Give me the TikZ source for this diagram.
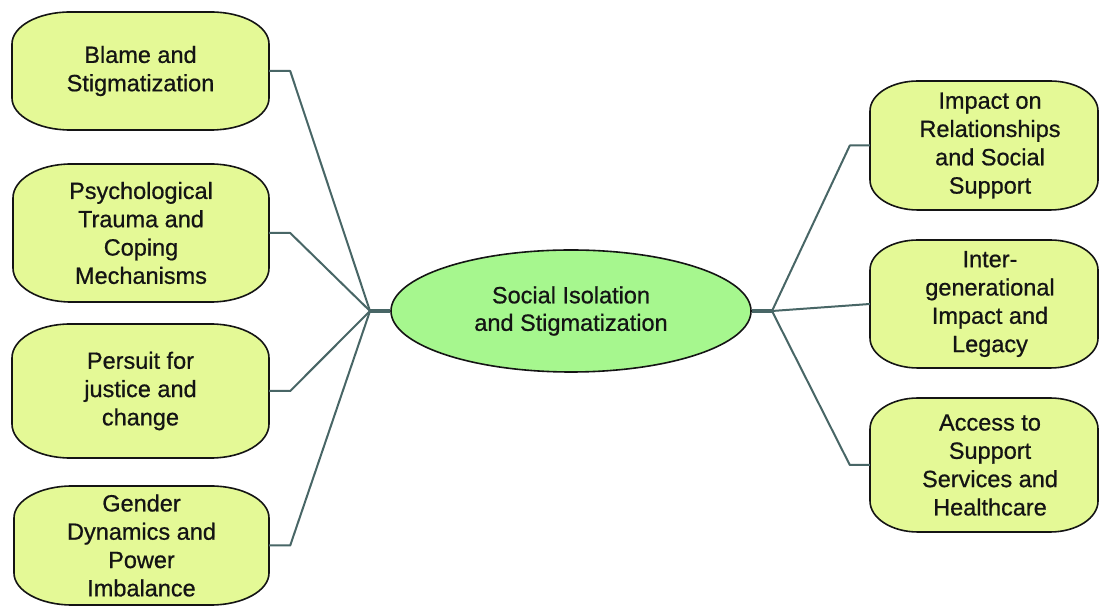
\documentclass[tikz,border=0pt]{standalone}
\usepackage{fontspec}
\setmainfont{Liberation Sans}[FakeBold=0.7]
\newfontfamily\heavy{Liberation Sans}[FakeBold=0.7]
\definecolor{boxfill}{RGB}{228,249,150}
\definecolor{ellfill}{RGB}{166,247,142}
\definecolor{connc}{RGB}{72,102,102}
\definecolor{inkc}{RGB}{20,20,20}
\tikzset{
  boxline/.style={draw=inkc, line width=1.6pt, fill=boxfill},
  boxtext/.style={rectangle, draw=none, inner sep=0pt, align=center, text=inkc,
    font=\heavy\fontsize{23.5}{28.3}\selectfont},
  ellnode/.style={ellipse, draw=inkc, line width=1.6pt, fill=ellfill, inner sep=0pt,
    minimum width=360pt, minimum height=122pt, align=center, text=inkc,
    font=\heavy\fontsize{23.5}{27.5}\selectfont},
  conn/.style={draw=connc, line width=2pt, line join=round},
  stub/.style={draw=connc, line width=3.5pt}
}
\usetikzlibrary{shapes.geometric}
% #1 name, #2 L, #3 B, #4 R, #5 T, #6 rx, #7 ry, #8 text x-shift, #9 text
\newcommand\capsule[9]{%
  \path[boxline] (#2,#3+#7) -- (#2,#5-#7)
    arc[start angle=180,end angle=90,x radius=#6,y radius=#7] -- (#4-#6,#5)
    arc[start angle=90,end angle=0,x radius=#6,y radius=#7] -- (#4,#3+#7)
    arc[start angle=0,end angle=-90,x radius=#6,y radius=#7] -- (#2+#6,#3)
    arc[start angle=270,end angle=180,x radius=#6,y radius=#7] -- cycle;
  \node[boxtext, minimum width={(#4-#2)*1pt}, minimum height={(#5-#3)*1pt}]
    (#1) at ({(#2+#4)/2},{(#3+#5)/2}) {};
  \node[boxtext] (#1-t) at ([xshift=#8pt]#1.center) {#9};
}
\begin{document}
\begin{tikzpicture}[x=1pt,y=1pt]
\useasboundingbox (0,0) rectangle (1099,607);
\fill[white] (0,0) rectangle (1099,607);

% left boxes
\capsule{A}{12}{477}{269}{595}{58}{32}{0}{Blame and\\Stigmatization}
\capsule{B}{13}{305}{269}{443}{58}{34}{0}{Psychological\\Trauma and\\Coping\\Mechanisms}
\capsule{C}{12}{149}{269}{283}{58}{34}{0}{Persuit for\\justice and\\change}
\capsule{D}{14}{2}{269}{121}{58}{32}{0}{Gender\\Dynamics and\\Power\\Imbalance}

% right boxes
\capsule{E}{870}{397}{1098}{526}{48}{30}{6}{Impact on\\Relationships\\and Social\\Support}
\capsule{F}{870}{239}{1098}{367}{48}{30}{6}{Inter-\\generational\\Impact and\\Legacy}
\capsule{G}{870}{75}{1098}{209}{48}{31}{6}{Access to\\Support\\Services and\\Healthcare}

% centre
\node[ellnode] (M) at (571,296) {Social Isolation\\and Stigmatization};

\coordinate (J1) at (370,296);
\coordinate (J2) at (772,296);

% connectors
\draw[conn] (A.east) -- ++(21,0) -- (J1);
\draw[conn] (B.east) -- ++(21,0) -- (J1);
\draw[conn] (C.east) -- ++(21,0) -- (J1);
\draw[conn] (D.east) -- ++(21,0) -- (J1);
\draw[stub] (J1) -- (M.west);

\draw[stub] (M.east) -- (J2);
\draw[conn] (E.west) -- ++(-20,0) -- (J2);
\draw[conn] (F.west) -- (J2);
\draw[conn] (G.west) -- ++(-20,0) -- (J2);
\end{tikzpicture}
\end{document}
